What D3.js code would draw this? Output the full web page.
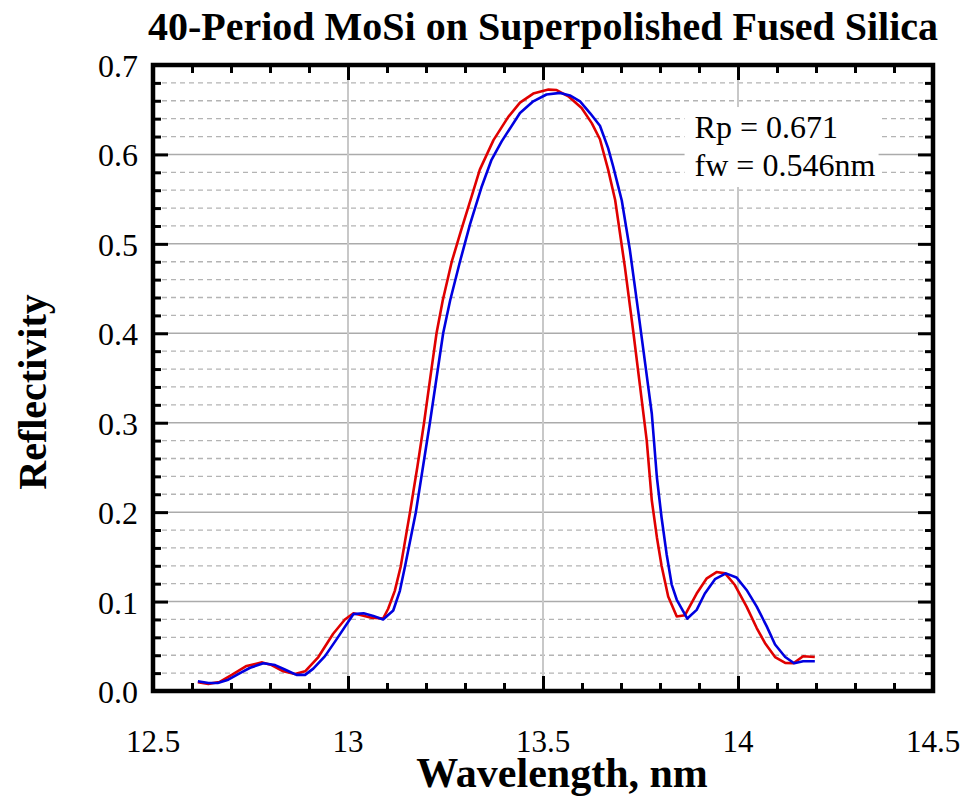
<!DOCTYPE html>
<html>
<head>
<meta charset="utf-8">
<script src="https://cdn.jsdelivr.net/npm/d3@7"></script>
<style>
  html, body { margin: 0; padding: 0; background: #fff; }
  svg text { font-family: 'Liberation Serif', 'Times New Roman', serif; fill: #000; }
</style>
</head>
<body>
<div id="chart"></div>
<script>
// measured reflectivity curves (wavelength in nm)
const redWavelength = [12.615, 12.642, 12.670, 12.702, 12.740, 12.780, 12.804, 12.834, 12.864, 12.890,
  12.924, 12.962, 12.992, 13.014, 13.060, 13.090, 13.103, 13.120, 13.135, 13.159, 13.178, 13.195,
  13.215, 13.227, 13.243, 13.266, 13.290, 13.317, 13.338, 13.373, 13.411, 13.441, 13.475,
  13.514, 13.535, 13.565, 13.599, 13.625, 13.646, 13.667, 13.685, 13.710, 13.732, 13.749, 13.766,
  13.779, 13.792, 13.804, 13.821, 13.843, 13.864, 13.894, 13.920, 13.945, 13.967, 13.992, 14.022,
  14.048, 14.069, 14.095, 14.121, 14.142, 14.167, 14.197];
const redReflectivity = [0.0097, 0.008, 0.010, 0.018, 0.028, 0.032, 0.029, 0.022, 0.019, 0.022,
  0.038, 0.064, 0.080, 0.087, 0.082, 0.081, 0.092, 0.112, 0.139, 0.200, 0.251, 0.300,
  0.363, 0.400, 0.437, 0.480, 0.515, 0.553, 0.583, 0.616, 0.642, 0.658, 0.668,
  0.6725, 0.672, 0.665, 0.652, 0.635, 0.617, 0.583, 0.549, 0.474, 0.400, 0.340, 0.280,
  0.213, 0.172, 0.140, 0.1056, 0.0833, 0.0848, 0.109, 0.126, 0.133, 0.1315, 0.1185, 0.0944,
  0.0704, 0.0537, 0.038, 0.0315, 0.031, 0.0389, 0.038];

const blueWavelength = [12.615, 12.642, 12.666, 12.693, 12.723, 12.749, 12.783, 12.813, 12.838, 12.868,
  12.890, 12.911, 12.941, 12.971, 13.014, 13.040, 13.065, 13.090, 13.116, 13.133, 13.146, 13.174,
  13.210, 13.244, 13.262, 13.287, 13.313, 13.342, 13.368, 13.394, 13.441, 13.475, 13.509,
  13.544, 13.569, 13.595, 13.621, 13.646, 13.667, 13.680, 13.693, 13.702, 13.723, 13.744, 13.762,
  13.779, 13.792, 13.804, 13.817, 13.830, 13.843, 13.870, 13.894, 13.915, 13.941, 13.969, 13.996,
  14.022, 14.048, 14.074, 14.095, 14.121, 14.144, 14.167, 14.197];
const blueReflectivity = [0.011, 0.009, 0.009, 0.0126, 0.020, 0.026, 0.031, 0.029, 0.024, 0.018,
  0.018, 0.025, 0.039, 0.058, 0.086, 0.087, 0.084, 0.080, 0.090, 0.112, 0.139, 0.200,
  0.300, 0.400, 0.437, 0.480, 0.522, 0.563, 0.594, 0.6146, 0.6464, 0.6594, 0.667,
  0.6688, 0.666, 0.6594, 0.646, 0.632, 0.607, 0.5865, 0.564, 0.5485, 0.4925, 0.425, 0.366,
  0.310, 0.239, 0.194, 0.153, 0.119, 0.102, 0.081, 0.0907, 0.109, 0.125, 0.1315, 0.127,
  0.113, 0.0944, 0.072, 0.052, 0.038, 0.031, 0.0333, 0.0333];

const xMajorTicks = [12.5, 13, 13.5, 14, 14.5];
const xTickLabels = ['12.5', '13', '13.5', '14', '14.5'];
const yMajorTicks = [0, 0.1, 0.2, 0.3, 0.4, 0.5, 0.6, 0.7];
const yTickLabels = ['0.0', '0.1', '0.2', '0.3', '0.4', '0.5', '0.6', '0.7'];
const annotationLines = ['Rp = 0.671', 'fw = 0.546nm'];

const width = 964;
const height = 798;
const margin = { top: 65, right: 31, bottom: 107, left: 153 };
const innerWidth = width - margin.left - margin.right;
const innerHeight = height - margin.top - margin.bottom;

const svg = d3.select('#chart')
  .append('svg')
  .attr('width', width)
  .attr('height', height);

const chart = svg.append('g')
  .attr('transform', `translate(${margin.left},${margin.top})`);

const xScale = d3.scaleLinear().domain([12.5, 14.5]).range([0, innerWidth]);
const yScale = d3.scaleLinear().domain([0, 0.7]).range([innerHeight, 0]);

const xMinorTicks = d3.range(12.5, 14.5001, 0.1).map((v) => +v.toFixed(2))
  .filter((v) => !xMajorTicks.some((m) => Math.abs(m - v) < 1e-6));
const yMinorTicks = d3.range(0, 0.7001, 0.02).map((v) => +v.toFixed(2))
  .filter((v) => !yMajorTicks.some((m) => Math.abs(m - v) < 1e-6));

// dashed minor grid
chart.append('g')
  .attr('stroke', '#b4b4b4')
  .attr('stroke-width', 1.3)
  .attr('stroke-dasharray', '5 4')
  .selectAll('line')
  .data(yMinorTicks)
  .join('line')
  .attr('x1', 0)
  .attr('x2', innerWidth)
  .attr('y1', (d) => yScale(d))
  .attr('y2', (d) => yScale(d));

// solid major grid
chart.append('g')
  .attr('stroke', '#ababab')
  .attr('stroke-width', 1.5)
  .selectAll('line')
  .data(yMajorTicks.slice(1, -1))
  .join('line')
  .attr('x1', 0)
  .attr('x2', innerWidth)
  .attr('y1', (d) => yScale(d))
  .attr('y2', (d) => yScale(d));

chart.append('g')
  .attr('stroke', '#c8c8c8')
  .attr('stroke-width', 2)
  .selectAll('line')
  .data(xMajorTicks.slice(1, -1))
  .join('line')
  .attr('x1', (d) => xScale(d))
  .attr('x2', (d) => xScale(d))
  .attr('y1', 0)
  .attr('y2', innerHeight);

// annotation box
const boxX = xScale(13.863);
chart.append('rect')
  .attr('x', boxX)
  .attr('y', yScale(0.653))
  .attr('width', 194)
  .attr('height', 80)
  .attr('fill', '#fff');

const lineGen = (xs, ys) => d3.line()
  .x((i) => xScale(xs[i]))
  .y((i) => yScale(ys[i]))(d3.range(xs.length));

chart.append('path')
  .attr('d', lineGen(redWavelength, redReflectivity))
  .attr('fill', 'none')
  .attr('stroke', '#e00000')
  .attr('stroke-width', 2.6)
  .attr('stroke-linejoin', 'round');

chart.append('path')
  .attr('d', lineGen(blueWavelength, blueReflectivity))
  .attr('fill', 'none')
  .attr('stroke', '#0000e0')
  .attr('stroke-width', 2.6)
  .attr('stroke-linejoin', 'round');

// ticks on all four sides, pointing inward
const styleTicks = (g) => {
  g.select('.domain').remove();
  g.selectAll('.tick line').attr('stroke', '#000').attr('stroke-width', 3);
};

const addAxis = (axis, transform) => chart.append('g')
  .attr('transform', transform)
  .call(axis)
  .call(styleTicks);

addAxis(d3.axisBottom(xScale).tickValues(xMajorTicks.slice(1, -1)).tickSize(-15).tickFormat(''), `translate(0,${innerHeight})`);
addAxis(d3.axisBottom(xScale).tickValues(xMinorTicks).tickSize(-8).tickFormat(''), `translate(0,${innerHeight})`);
addAxis(d3.axisTop(xScale).tickValues(xMajorTicks.slice(1, -1)).tickSize(-15).tickFormat(''), 'translate(0,0)');
addAxis(d3.axisTop(xScale).tickValues(xMinorTicks).tickSize(-8).tickFormat(''), 'translate(0,0)');
addAxis(d3.axisLeft(yScale).tickValues(yMajorTicks.slice(1, -1)).tickSize(-15).tickFormat(''), 'translate(0,0)');
addAxis(d3.axisLeft(yScale).tickValues(yMinorTicks).tickSize(-8).tickFormat(''), 'translate(0,0)');
addAxis(d3.axisRight(yScale).tickValues(yMajorTicks.slice(1, -1)).tickSize(-15).tickFormat(''), `translate(${innerWidth},0)`);
addAxis(d3.axisRight(yScale).tickValues(yMinorTicks).tickSize(-8).tickFormat(''), `translate(${innerWidth},0)`);

// frame
chart.append('rect')
  .attr('x', 0)
  .attr('y', 0)
  .attr('width', innerWidth)
  .attr('height', innerHeight)
  .attr('fill', 'none')
  .attr('stroke', '#000')
  .attr('stroke-width', 4.5);

// tick labels
chart.append('g')
  .selectAll('text')
  .data(xMajorTicks)
  .join('text')
  .attr('x', (d) => xScale(d))
  .attr('y', innerHeight + 61)
  .attr('text-anchor', 'middle')
  .attr('font-size', 31)
  .text((d, i) => xTickLabels[i]);

chart.append('g')
  .selectAll('text')
  .data(yMajorTicks)
  .join('text')
  .attr('x', -15)
  .attr('y', (d) => yScale(d) + 12)
  .attr('text-anchor', 'end')
  .attr('font-size', 32)
  .text((d, i) => yTickLabels[i]);

// annotation
chart.append('g')
  .selectAll('text')
  .data(annotationLines)
  .join('text')
  .attr('x', boxX + 10)
  .attr('y', (d, i) => 73 + i * 38)
  .attr('font-size', 32)
  .text((d) => d);

// titles
svg.append('text')
  .attr('x', margin.left + innerWidth / 2)
  .attr('y', 40)
  .attr('text-anchor', 'middle')
  .attr('font-size', 40)
  .attr('font-weight', 'bold')
  .text('40-Period MoSi on Superpolished Fused Silica');

svg.append('text')
  .attr('x', margin.left + innerWidth / 2 + 19)
  .attr('y', 787)
  .attr('text-anchor', 'middle')
  .attr('font-size', 42)
  .attr('font-weight', 'bold')
  .text('Wavelength, nm');

svg.append('text')
  .attr('transform', `translate(46,${margin.top + innerHeight / 2 + 14}) rotate(-90)`)
  .attr('text-anchor', 'middle')
  .attr('font-size', 40)
  .attr('font-weight', 'bold')
  .text('Reflectivity');
</script>
</body>
</html>
